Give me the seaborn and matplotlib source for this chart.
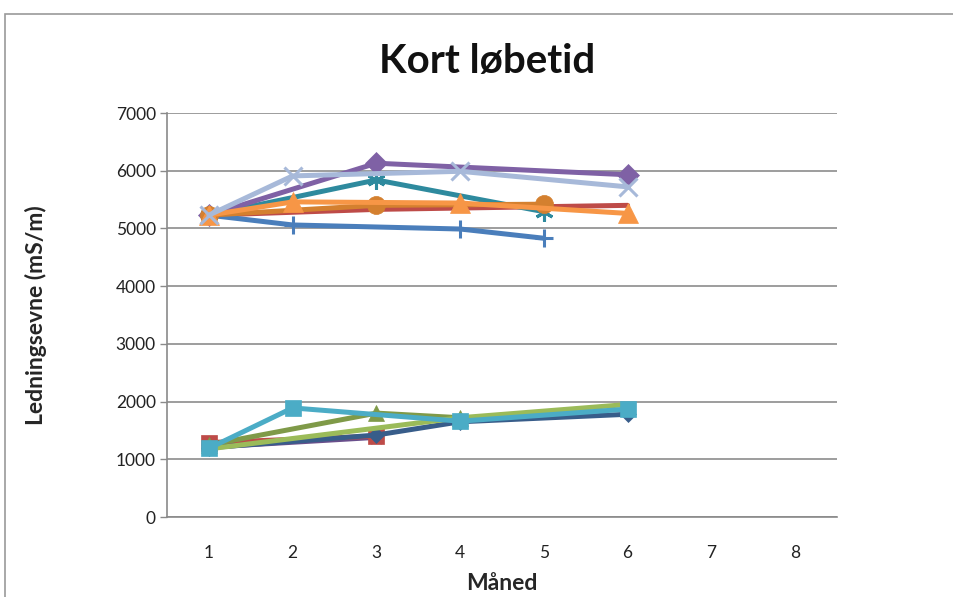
import numpy as np
import pandas as pd
import matplotlib
matplotlib.use("Agg")
import matplotlib.pyplot as plt
from matplotlib.patches import Rectangle
import seaborn as sns

sns.set_theme(style="white")
plt.rcParams["font.family"] = ["Lato", "DejaVu Sans"]

# Month categories on the x axis
months = ["1", "2", "3", "4", "5", "6", "7", "8"]
y_ticks = [0, 1000, 2000, 3000, 4000, 5000, 6000, 7000]

# Conductivity (mS/m) per month; None where nothing was measured
low_blue = [1200, None, 1420, 1650, None, 1780]
low_red = [1290, None, 1400, None, None, None]
low_olive = [1250, None, 1800, 1720, None, None]
low_green = [1180, None, None, 1720, None, 1950]
low_purple = [1210, None, 1380, None, None, None]
low_cyan = [1190, 1890, None, 1660, None, 1870]

high_red = [5230, None, 5330, None, None, 5400]
high_blue = [5230, 5060, None, 4990, 4830, None]
high_teal = [5230, None, 5840, None, 5290, None]
high_purple = [5230, None, 6130, None, None, 5930]
high_orange_c = [5230, None, 5400, None, 5420, None]
high_orange_t = [5230, 5460, None, 5440, None, 5260]
high_steel = [5230, 5910, None, 5990, None, 5720]

series = [
    (low_purple, "#6A4F8C", (5, 1, 0), 12),
    (low_red, "#BE4B48", "s", 11),
    (low_blue, "#385D8A", "D", 8),
    (low_olive, "#7F9A48", "^", 12),
    (low_green, "#9BBB59", None, 0),
    (low_cyan, "#4BACC6", "s", 12),
    (high_red, "#BE4B48", None, 0),
    (high_blue, "#4A7EBB", "+", 13),
    (high_teal, "#2E8A9E", (6, 2, 0), 13),
    (high_purple, "#7F61A5", "D", 11),
    (high_orange_c, "#D4802F", "o", 13),
    (high_orange_t, "#F79646", "^", 14),
    (high_steel, "#A7B9D9", "x", 13),
]

fig = plt.figure(figsize=(9.54, 5.97), dpi=100)
ax = fig.add_axes([167 / 954, 1 - 517 / 597, (837 - 167) / 954, (517 - 113) / 597])

for vals, color, marker, ms in series:
    df = pd.DataFrame({"x": np.arange(1, len(vals) + 1), "y": vals}).dropna()
    sns.lineplot(data=df, x="x", y="y", ax=ax, color=color, linewidth=3.6,
                 marker=marker, markersize=ms, markeredgecolor=color,
                 markeredgewidth=2.2 if marker in ("+", "x", (6, 2, 0)) else 0.5,
                 markerfacecolor=color, legend=False, sort=False)

ax.set_xlim(0.5, 8.5)
ax.set_ylim(0, 7000)
ax.set_yticks(y_ticks)
ax.set_yticklabels([str(v) for v in y_ticks], fontsize=12.5, color="#222222")
ax.set_xticks(np.arange(1, len(months) + 1))
ax.set_xticklabels(months, fontsize=12.5, color="#222222")
ax.set_xticks(np.arange(0.5, len(months) + 1, 1.0), minor=True)
ax.tick_params(axis="x", which="major", length=0, pad=20)
ax.tick_params(axis="x", which="minor", length=6, width=1, color="#8a8a8a", direction="out")
ax.tick_params(axis="y", length=5, width=1, color="#8a8a8a", direction="out", pad=3, left=True)
ax.grid(axis="y", color="#8c8c8c", linewidth=1.2)
ax.grid(axis="x", visible=False)
ax.set_axisbelow(True)
for side in ("top", "right"):
    ax.spines[side].set_visible(False)
for side in ("left", "bottom"):
    ax.spines[side].set_color("#8a8a8a")
    ax.spines[side].set_linewidth(1.2)

ax.set_xlabel("Måned", fontsize=16.5, fontweight="bold")
ax.set_ylabel("Ledningsevne (mS/m)", fontsize=16.5, fontweight="bold")
ax.xaxis.set_label_coords(0.5, (517 - 573) / 404)
ax.yaxis.set_label_coords((47 - 167) / 670, 0.5)
fig.text(487 / 954, 1 - 62 / 597, "Kort løbetid", ha="center", va="center",
         fontsize=29, fontweight="bold", color="#111111")

# Chart frame
fig.patches.append(Rectangle((5 / 954, -0.1), 1.2, 1 - 14 / 597 + 0.1,
                             transform=fig.transFigure, fill=False,
                             edgecolor="#9a9a9a", linewidth=1.2))

fig.savefig("out.png", dpi=100)
